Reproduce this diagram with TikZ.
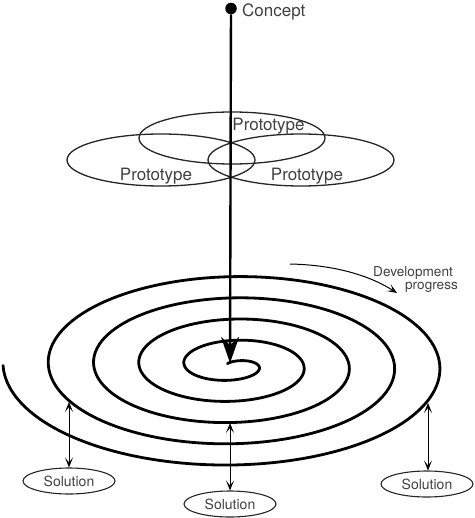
\documentclass[tikz,border=0pt]{standalone}
\usepackage{fontspec}
\setmainfont{TeX Gyre Heros}
\usetikzlibrary{arrows.meta,shapes.geometric}
\begin{document}
\begin{tikzpicture}[x=1pt,y=-1pt,
  proto/.style={draw=black!85,line width=1.3pt},
  lbl/.style={text=black!75,font=\fontsize{17}{20}\selectfont,inner sep=0pt},
  small/.style={text=black!75,font=\fontsize{13.6}{16}\selectfont,inner sep=0pt},
  sol/.style={ellipse,draw=black!85,line width=1.1pt,minimum width=92pt,minimum height=26pt,inner sep=0pt,text=black!75,font=\fontsize{14}{16}\selectfont},
  tip/.style={Stealth[length=10pt,width=8pt,inset=5pt]},
  dbl/.style={line width=1pt,{Stealth[length=10pt,width=8pt,inset=5pt]}-{Stealth[length=10pt,width=8pt,inset=5pt]}},
]
\useasboundingbox (0,0) rectangle (474,518);
% prototype ellipses
\draw[proto] (232,138) ellipse [x radius=93, y radius=26];
\draw[proto] (161,160) ellipse [x radius=94, y radius=26];
\draw[proto] (301,160) ellipse [x radius=93, y radius=26];
\node[lbl,anchor=base] (pt) at (268.5,131) {Prototype};
\node[lbl,anchor=base] (pl) at (156,181) {Prototype};
\node[lbl,anchor=base] (pr) at (307,181) {Prototype};
% spiral
\draw[line width=2.8pt,line cap=round] plot[domain=-120:1620,samples=500,smooth]
  ({232.75+(25.75+0.1259*\x)*cos(\x)},{365.5+(9.2+0.059*\x)*sin(\x)});
% concept arrow
\node[circle,fill=black,inner sep=0pt,minimum size=11.5pt] (concept) at (231,8.5) {};
\node[lbl,anchor=base west] (clabel) at (242,17) {Concept};
\coordinate (ctr) at (230,363);
\draw[line width=2.4pt,-{Stealth[length=26pt,width=18pt,inset=8pt]}] (concept) -- (ctr);
% development progress
\coordinate (d0) at (290,264);
\coordinate (d1) at (397,293);
\draw[line width=1pt,-{Stealth[length=10pt,width=8pt,inset=5pt]}] (d0) .. controls (338,265) and (372,277) .. (d1);
\node[small,anchor=base] (dev) at (413,276) {Development};
\node[small,anchor=base] (prog) at (431.5,289) {progress};
% solutions
\node[sol] (s1) at (69,481) {Solution};
\node[sol] (s2) at (230,504) {Solution};
\node[sol] (s3) at (427,484) {Solution};
\coordinate (a1) at (69,402);
\coordinate (a2) at (230,423);
\coordinate (a3) at (428,403);
\draw[dbl] (a1) -- (s1.north);
\draw[dbl] (a2) -- (s2.north);
\draw[dbl] (a3) -- (a3 |- s3.north);
\end{tikzpicture}
\end{document}
